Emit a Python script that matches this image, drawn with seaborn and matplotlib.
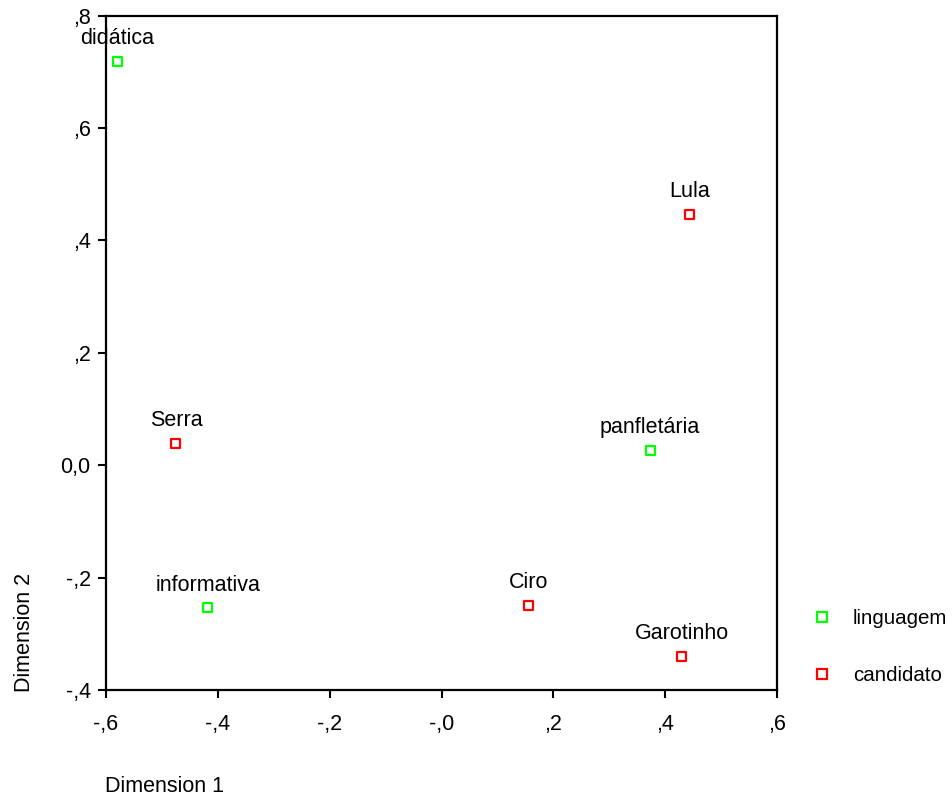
import matplotlib
matplotlib.use("Agg")
import matplotlib.pyplot as plt
from matplotlib.lines import Line2D
import seaborn as sns
import pandas as pd

# Joint category points from the correspondence analysis
labels = ["didática", "panfletária", "informativa", "Lula", "Serra", "Ciro", "Garotinho"]
dim1 = [-0.580, 0.373, -0.418, 0.443, -0.475, 0.156, 0.430]
dim2 = [0.718, 0.026, -0.254, 0.447, 0.039, -0.250, -0.341]
groups = ["linguagem", "linguagem", "linguagem", "candidato", "candidato", "candidato", "candidato"]

group_order = ["linguagem", "candidato"]
group_colors = {"linguagem": "#00ff00", "candidato": "#ff0000"}

x_ticks = [-0.6, -0.4, -0.2, 0.0, 0.2, 0.4, 0.6]
x_tick_labels = ["-,6", "-,4", "-,2", "-,0", ",2", ",4", ",6"]
y_ticks = [-0.4, -0.2, 0.0, 0.2, 0.4, 0.6, 0.8]
y_tick_labels = ["-,4", "-,2", "0,0", ",2", ",4", ",6", ",8"]

df = pd.DataFrame({"label": labels, "dim1": dim1, "dim2": dim2, "group": groups})

sns.set_theme(style="white")
plt.rcParams["font.family"] = ["Liberation Sans", "DejaVu Sans"]
plt.rcParams["text.color"] = "black"
plt.rcParams["xtick.color"] = "black"
plt.rcParams["ytick.color"] = "black"
FS = 15.5

fig = plt.figure(figsize=(9.52, 7.98), dpi=100)
ax = fig.add_axes([106 / 952, 1 - 690 / 798, (777 - 106) / 952, (690 - 15.7) / 798])

sns.scatterplot(data=df, x="dim1", y="dim2", hue="group", hue_order=group_order,
                palette=group_colors, marker="s", s=42, linewidth=1.6,
                legend=False, ax=ax, zorder=3)

# hollow square markers
pts = ax.collections[0]
pts.set_edgecolors(pts.get_facecolors())
pts.set_facecolors("none")

for lab, xv, yv in zip(labels, dim1, dim2):
    ax.annotate(lab, (xv, yv), xytext=(0, 12.5), textcoords="offset points",
                ha="center", va="baseline", fontsize=FS, color="black")

ax.set_xlim(-0.6, 0.6)
ax.set_ylim(-0.4, 0.8)
ax.set_xticks(x_ticks)
ax.set_xticklabels(x_tick_labels)
ax.set_yticks(y_ticks)
ax.set_yticklabels(y_tick_labels)
ax.tick_params(axis="both", which="major", direction="out", length=6, width=1.5,
               colors="black", labelsize=FS, left=True, bottom=True)
ax.tick_params(axis="x", pad=11)
ax.tick_params(axis="y", pad=5)
for sp in ax.spines.values():
    sp.set_visible(True)
    sp.set_color("black")
    sp.set_linewidth(1.6)
ax.set_xlabel("")
ax.set_ylabel("")
ax.grid(False)

fig.text(105 / 952, 1 - 787 / 798, "Dimension 1", ha="left", va="center",
         fontsize=FS, color="black")
fig.text(25 / 952, 1 - 692 / 798, "Dimension 2", ha="center", va="bottom",
         rotation=90, fontsize=FS, color="black")

handles = [Line2D([], [], marker="s", linestyle="none", markersize=6.5,
                  markerfacecolor="none", markeredgecolor=group_colors[g],
                  markeredgewidth=1.6) for g in group_order]
leg = fig.legend(handles, group_order, loc="center left",
                 bbox_to_anchor=(812 / 952, 1 - 647 / 798), frameon=False,
                 fontsize=14.8, handlelength=1.0, handletextpad=1.0, labelspacing=1.85,
                 borderpad=0, borderaxespad=0)
for t in leg.get_texts():
    t.set_color("black")

fig.savefig("out.png", dpi=100, facecolor="white")
